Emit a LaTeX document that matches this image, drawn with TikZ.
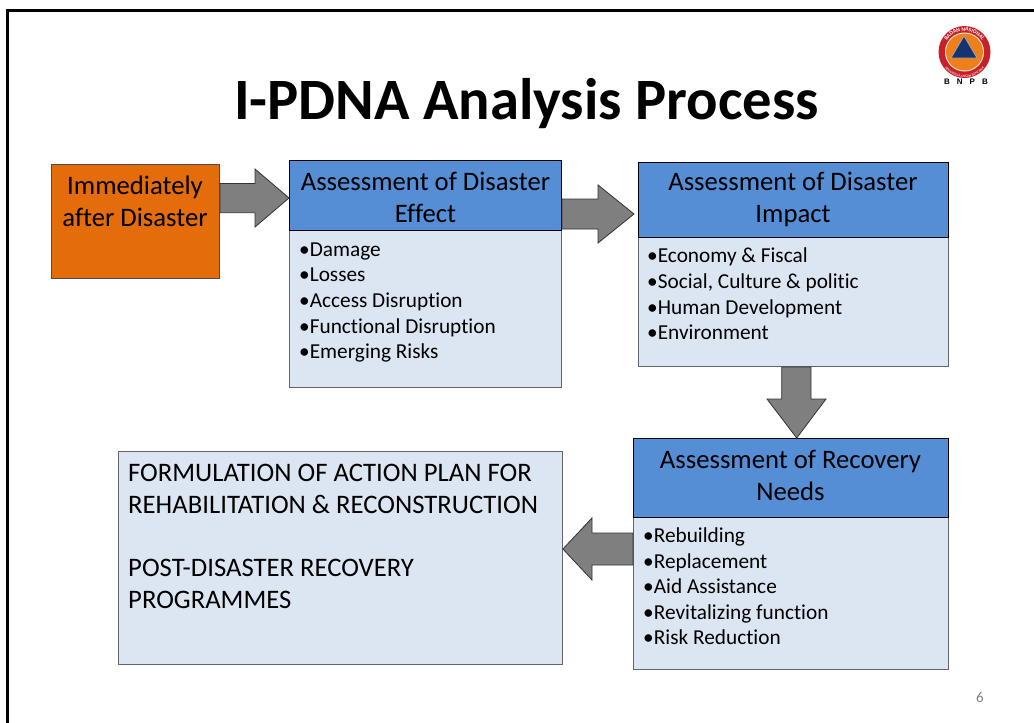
\documentclass[tikz,border=0pt]{standalone}
\usepackage{fontspec}
\setmainfont[Ligatures=NoCommon]{Carlito}
\newfontfamily\barefont{Liberation Sans}
\usetikzlibrary{calc,decorations.text}
\definecolor{hdr}{HTML}{558ED5}
\definecolor{bodyc}{HTML}{DCE6F2}
\definecolor{orng}{HTML}{E46C0A}
\definecolor{arrowc}{HTML}{7F7F7F}
\definecolor{edgec}{HTML}{5F6670}
\definecolor{logored}{HTML}{C8202A}
\definecolor{logoblue}{HTML}{14336F}
\definecolor{logoor}{HTML}{EE7F1A}
\tikzset{
 x=1pt,y=-1pt,
 hbox/.style={draw=black,line width=0.9pt,fill=hdr,anchor=north west,inner sep=0pt},
 bbox/.style={draw=edgec,line width=0.9pt,fill=bodyc,anchor=north west,inner sep=0pt},
 btext/.style={font=\fontsize{26.7}{32}\selectfont,align=center,inner sep=0pt},
 blockarrow/.style={draw=black!80,line width=0.8pt,fill=arrowc,line join=miter},
 blist/.style={anchor=north west,inner sep=0pt,align=left,font=\fontsize{21.3}{25.6}\selectfont},
}
\newcommand{\itemline}[1]{\textbullet#1\\}
\begin{document}
\begin{tikzpicture}
\useasboundingbox (0,0) rectangle (1034,723);
\fill[white] (0,0) rectangle (1034,723);
\draw[line width=3pt,black] (7,723) -- (7,10.5) -- (1034,10.5);
% title
\node[font=\bfseries\fontsize{58.6}{64}\selectfont,inner sep=0pt] (title) at (526.5,104) {I-PDNA Analysis Process};
% boxes
\node[draw=black!70,line width=0.9pt,fill=orng,anchor=north west,minimum width=168pt,minimum height=114pt,inner sep=0pt] (start) at (51,164) {};
\node[btext] (startt) at (135,201.5) {Immediately\\after Disaster};
\node[bbox,minimum width=272pt,minimum height=157pt] (b1) at (289,230) {};
\node[hbox,minimum width=272pt,minimum height=70pt] (h1) at (289,160) {};
\node[btext] (h1t) at (425.5,197) {Assessment of Disaster\\Effect};
\node[blist] (l1) at (299,242.5) {\itemline{Damage}\itemline{Losses}\itemline{Access Disruption}\itemline{Functional Disruption}\textbullet Emerging Risks};
\node[bbox,minimum width=310pt,minimum height=129pt] (b2) at (638,237) {};
\node[hbox,minimum width=310pt,minimum height=75pt] (h2) at (638,162) {};
\node[btext] (h2t) at (793,199.5) {Assessment of Disaster\\Impact};
\node[blist] (l2) at (647,248) {\itemline{Economy \& Fiscal}\itemline{Social, Culture \& politic}\itemline{Human Development}\textbullet Environment};
\node[bbox,minimum width=315pt,minimum height=152pt] (b3) at (633,517) {};
\node[hbox,minimum width=315pt,minimum height=79pt] (h3) at (633,438) {};
\node[btext] (h3t) at (790.5,475) {Assessment of Recovery\\Needs};
\node[blist] (l3) at (643,527.5) {\itemline{Rebuilding}\itemline{Replacement}\itemline{Aid Assistance}\itemline{Revitalizing function}\textbullet Risk Reduction};
\node[bbox,minimum width=444pt,minimum height=213pt] (act) at (118,451) {};
\node[anchor=north west,inner sep=0pt,align=left,font=\fontsize{26.7}{32}\selectfont] (actt) at (128,463.5) {FORMULATION OF ACTION PLAN FOR\\REHABILITATION \& RECONSTRUCTION\\[31.5pt]POST-DISASTER RECOVERY\\PROGRAMMES};
% arrows
\draw[blockarrow] (start.east |- 0,183.5) -- (255,183.5) -- (255,169) -- (h1.west |- 0,198) -- (255,227) -- (255,212.7) -- (start.east |- 0,212.7) -- cycle;
\draw[blockarrow] (h1.east |- 0,199) -- (598,199) -- (598,185) -- (634,214) -- (598,243) -- (598,229) -- (h1.east |- 0,229) -- cycle;
\draw[blockarrow] (781.7,0 |- b2.south) -- (781.7,399) -- (767,399) -- (796.7,0 |- h3.north) -- (826,399) -- (811,399) -- (811,0 |- b2.south) -- cycle;
\draw[blockarrow] (b3.west |- 0,533) -- (592,533) -- (592,518) -- (act.east |- 0,549) -- (592,580) -- (592,565) -- (b3.west |- 0,565) -- cycle;
% logo
\fill[logored] (964.5,52) circle (26);
\fill[white!85!orange] (964.5,52) circle (19.5);
\fill[logoor] (964.5,52) circle (18.5);
\fill[logoblue,draw=black!35,line width=0.8pt] (964,36) -- (977,58) -- (951,58) -- cycle;
\path[postaction={decorate,decoration={text along path,text align=center,text={|\fontsize{5.5}{5.5}\selectfont\bfseries\color{white}|BADAN NASIONAL}}}] (943.5,52) arc[start angle=180,end angle=360,radius=21];
\path[postaction={decorate,decoration={text along path,text align=center,text={|\fontsize{3.6}{3.6}\selectfont\color{white}|PENANGGULANGAN BENCANA}}}] (939,52) arc[start angle=180,end angle=0,radius=25.5];
\node[font=\barefont\bfseries\fontsize{8}{9}\selectfont,inner sep=0pt] (bnpb) at (966,82) {B\hspace{7pt}N\hspace{7pt}P\hspace{7pt}B};
\node[font=\fontsize{15}{16}\selectfont,text=black!50,inner sep=0pt] (pg) at (980,697) {6};
\end{tikzpicture}
\end{document}
